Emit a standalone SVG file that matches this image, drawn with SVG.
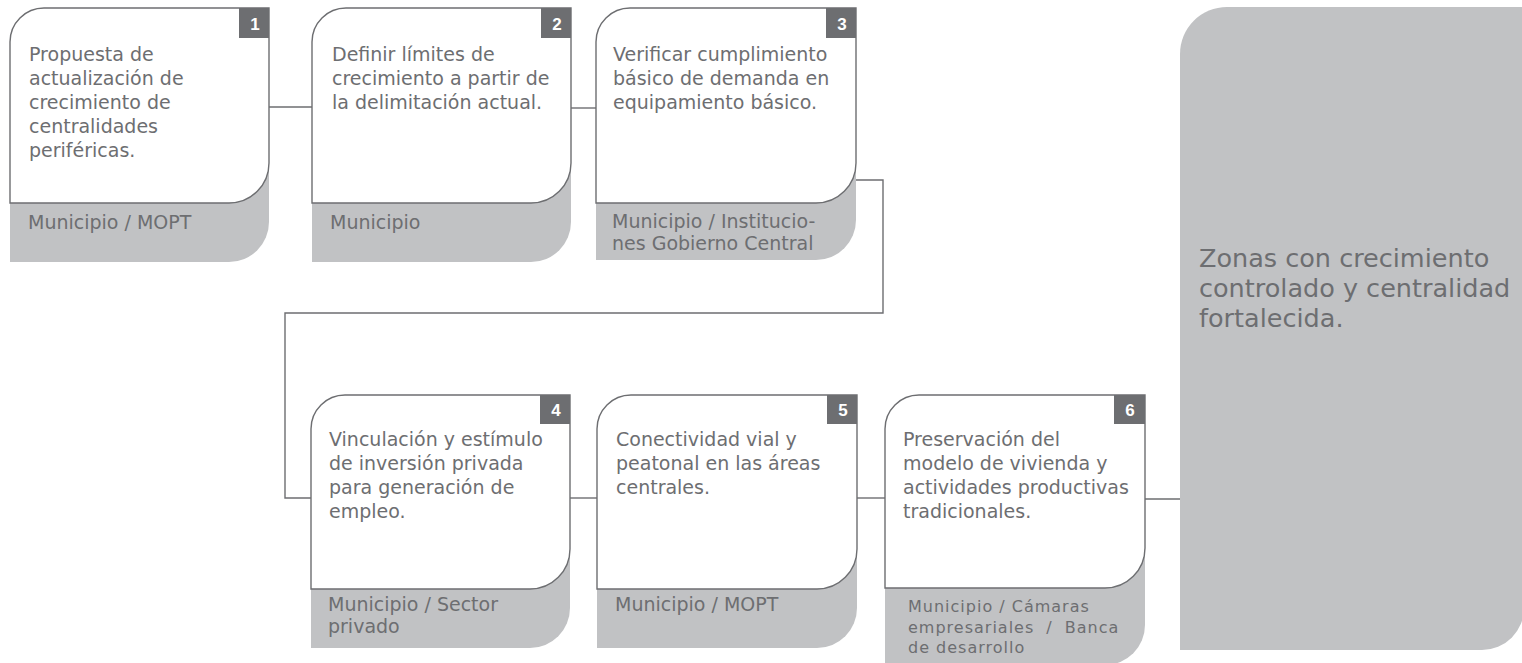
<svg xmlns="http://www.w3.org/2000/svg" width="1522" height="663" viewBox="0 0 1522 663">
<style>
.bg{fill:#c1c2c4}
.card{fill:#ffffff;stroke:#6d6e71;stroke-width:1.4}
.badge{fill:#6d6e71}
.num{font-family:"Liberation Sans",Arial,sans-serif;font-weight:bold;font-size:17px;fill:#ffffff;text-anchor:middle}
.txt{font-family:"DejaVu Sans","Liberation Sans",sans-serif;font-size:19px;fill:#6d6e71}
.sub{font-family:"DejaVu Sans","Liberation Sans",sans-serif;font-size:19px;fill:#6d6e71}
.sub6{font-family:"DejaVu Sans","Liberation Sans",sans-serif;font-size:16px;letter-spacing:1px;fill:#6d6e71}
.big{font-family:"DejaVu Sans","Liberation Sans",sans-serif;font-size:25.5px;fill:#6d6e71}
.conn{fill:none;stroke:#6d6e71;stroke-width:1.4}
</style>
<rect width="1522" height="663" fill="#ffffff"/>

<g id="connectors">
<path class="conn" d="M269,107 H312"/>
<path class="conn" d="M571,108 H596"/>
<path class="conn" d="M856,180 H883 V313 H285 V498 H311"/>
<path class="conn" d="M570,498 H597"/>
<path class="conn" d="M857,498 H885"/>
<path class="conn" d="M1145,499 H1180"/>
</g>

<g id="node1">
<path class="bg" d="M10,160 H269 V222 A40,40 0 0 1 229,262 H10 Z"/>
<path class="card" d="M10,42 A34,34 0 0 1 44,8 H269 V163 A40,40 0 0 1 229,203 H10 Z"/>
<rect class="badge" x="239" y="8" width="30" height="30"/>
<text class="num" x="255" y="30">1</text>
<text class="txt" x="29" y="61">Propuesta de</text>
<text class="txt" x="29" y="85">actualización de</text>
<text class="txt" x="29" y="109">crecimiento de</text>
<text class="txt" x="29" y="133">centralidades</text>
<text class="txt" x="29" y="157">periféricas.</text>
<text class="sub" x="28" y="229">Municipio / MOPT</text>
</g>

<g id="node2">
<path class="bg" d="M312,160 H571 V222 A40,40 0 0 1 531,262 H312 Z"/>
<path class="card" d="M312,42 A34,34 0 0 1 346,8 H571 V163 A40,40 0 0 1 531,203 H312 Z"/>
<rect class="badge" x="541" y="8" width="30" height="30"/>
<text class="num" x="557" y="30">2</text>
<text class="txt" x="332" y="61">Definir límites de</text>
<text class="txt" x="332" y="85">crecimiento a partir de</text>
<text class="txt" x="332" y="109">la delimitación actual.</text>
<text class="sub" x="330" y="229">Municipio</text>
</g>

<g id="node3">
<path class="bg" d="M596,160 H856 V220 A40,40 0 0 1 816,260 H596 Z"/>
<path class="card" d="M596,42 A34,34 0 0 1 630,8 H856 V163 A40,40 0 0 1 816,203 H596 Z"/>
<rect class="badge" x="826" y="8" width="30" height="30"/>
<text class="num" x="842" y="30">3</text>
<text class="txt" x="613" y="61">Verificar cumplimiento</text>
<text class="txt" x="613" y="85">básico de demanda en</text>
<text class="txt" x="613" y="109">equipamiento básico.</text>
<text class="sub" x="612" y="228">Municipio / Institucio-</text>
<text class="sub" x="612" y="250">nes Gobierno Central</text>
</g>

<g id="node4">
<path class="bg" d="M311,546 H570 V608 A40,40 0 0 1 530,648 H311 Z"/>
<path class="card" d="M311,429 A34,34 0 0 1 345,395 H570 V549 A40,40 0 0 1 530,589 H311 Z"/>
<rect class="badge" x="540" y="395" width="30" height="29"/>
<text class="num" x="556" y="416">4</text>
<text class="txt" x="329" y="446">Vinculación y estímulo</text>
<text class="txt" x="329" y="470">de inversión privada</text>
<text class="txt" x="329" y="494">para generación de</text>
<text class="txt" x="329" y="518">empleo.</text>
<text class="sub" x="328" y="611">Municipio / Sector</text>
<text class="sub" x="328" y="633">privado</text>
</g>

<g id="node5">
<path class="bg" d="M597,546 H857 V608 A40,40 0 0 1 817,648 H597 Z"/>
<path class="card" d="M597,429 A34,34 0 0 1 631,395 H857 V549 A40,40 0 0 1 817,589 H597 Z"/>
<rect class="badge" x="827" y="395" width="30" height="29"/>
<text class="num" x="843" y="416">5</text>
<text class="txt" x="616" y="446">Conectividad vial y</text>
<text class="txt" x="616" y="470">peatonal en las áreas</text>
<text class="txt" x="616" y="494">centrales.</text>
<text class="sub" x="615" y="611">Municipio / MOPT</text>
</g>

<g id="node6">
<path class="bg" d="M885,546 H1145 V625 A40,40 0 0 1 1105,665 H885 Z"/>
<path class="card" d="M885,429 A34,34 0 0 1 919,395 H1145 V548 A40,40 0 0 1 1105,588 H885 Z"/>
<rect class="badge" x="1114" y="395" width="31" height="29"/>
<text class="num" x="1130" y="416">6</text>
<text class="txt" x="903" y="446">Preservación del</text>
<text class="txt" x="903" y="470">modelo de vivienda y</text>
<text class="txt" x="903" y="494">actividades productivas</text>
<text class="txt" x="903" y="518">tradicionales.</text>
<text class="sub6" x="908" y="612">Municipio / Cámaras</text>
<text class="sub6" x="908" y="633" word-spacing="6">empresariales / Banca</text>
<text class="sub6" x="908" y="653">de desarrollo</text>
</g>

<g id="result">
<path class="bg" d="M1180,54 A47,47 0 0 1 1227,7 H1524 V608 A42,42 0 0 1 1482,650 H1180 Z"/>
<text class="big" x="1199" y="267">Zonas con crecimiento</text>
<text class="big" x="1199" y="297">controlado y centralidad</text>
<text class="big" x="1199" y="327">fortalecida.</text>
</g>
</svg>
